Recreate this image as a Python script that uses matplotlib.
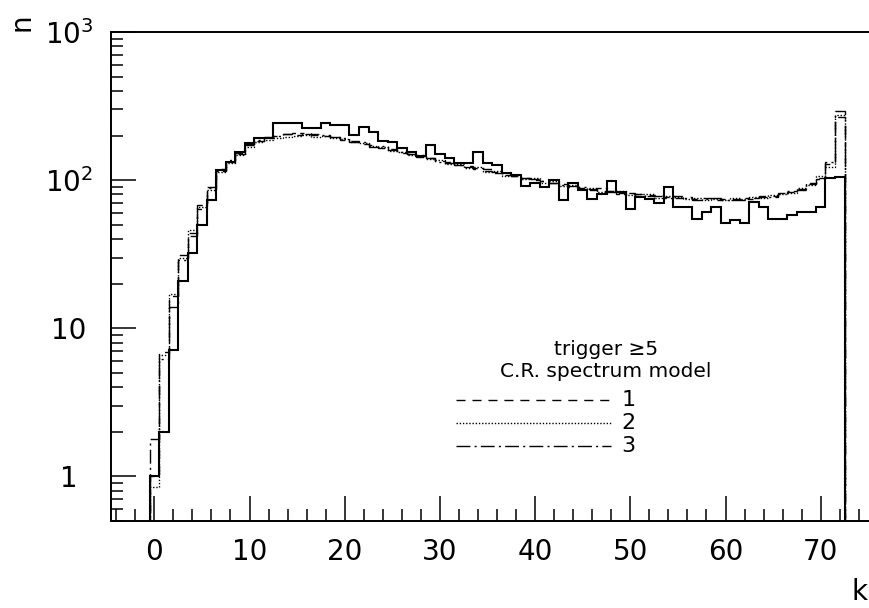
import numpy as np
import matplotlib
matplotlib.use('Agg')
import matplotlib.pyplot as plt
from matplotlib.ticker import FixedLocator, MultipleLocator, LogLocator, NullFormatter

# bin contents, k = 0 .. 72
k = np.arange(0, 73)

n_data = [1, 2, 7.1, 21, 32, 50, 73, 117, 133, 155,
          178, 194, 194, 242, 242, 242, 226, 226, 242, 235,
          235, 201, 229, 210, 184, 182, 164, 155, 145, 172,
          151, 142, 130, 130, 154, 130, 126, 111, 108, 91,
          95, 90, 100, 73, 95, 86, 75, 81, 99, 83,
          64, 77, 75, 70, 90, 66, 66, 55, 61, 66,
          51, 54, 51, 71, 66, 55, 55, 58, 61, 61,
          66, 103, 105]

n_model1 = [1.0, 6.9, 16.5, 31, 44, 68, 90, 118, 133, 150,
            172, 184, 192, 198, 204, 201, 207, 203, 198, 197,
            188, 185, 176, 174, 165, 161, 153, 151, 144, 141,
            134, 132, 126, 125, 119, 118, 112, 111, 106, 104,
            100, 99, 95, 94, 90, 89, 86, 85, 84, 82,
            81, 80, 78, 79, 77, 76, 77, 75, 76, 74,
            75, 74, 76, 75, 77, 78, 80, 83, 87, 94,
            104, 128, 268]

n_model2 = [0.85, 6.6, 17, 30, 46, 66, 86, 114, 130, 148,
            168, 180, 188, 192, 196, 199, 202, 197, 200, 193,
            191, 180, 178, 170, 167, 158, 156, 147, 146, 138,
            137, 128, 129, 121, 122, 114, 115, 107, 109, 101,
            103, 96, 98, 91, 92, 87, 88, 83, 85, 84,
            79, 81, 80, 76, 78, 77, 75, 76, 74, 75,
            73, 76, 75, 77, 76, 79, 81, 82, 88, 92,
            106, 122, 275]

n_model3 = [1.8, 6.2, 14, 29, 42, 64, 88, 116, 136, 152,
            175, 186, 195, 200, 205, 208, 204, 206, 201, 195,
            193, 182, 180, 168, 170, 160, 155, 149, 148, 140,
            132, 130, 127, 123, 121, 116, 113, 109, 107, 103,
            101, 98, 96, 93, 91, 90, 87, 88, 83, 81,
            82, 78, 79, 78, 76, 78, 76, 74, 75, 76,
            74, 75, 73, 76, 78, 77, 82, 85, 86, 95,
            102, 132, 295]

y_ticks = [1, 10, 100, 1000]
y_ticklabels = ['1', '10', r'$\mathregular{10^{2}}$', r'$\mathregular{10^{3}}$']
x_ticks = [0, 10, 20, 30, 40, 50, 60, 70]

legend_title = ['trigger \u22655', 'C.R. spectrum model']
legend_labels = ['1', '2', '3']

plt.rcParams['font.family'] = ['DejaVu Sans']
plt.rcParams['mathtext.fontset'] = 'dejavusans'

fig = plt.figure(figsize=(8.69, 6.08), dpi=100)
ax = fig.add_axes([111 / 869, 87 / 608, 760 / 869, 489 / 608])

edges = np.arange(-0.5, 73.5, 1.0)
styles = [
    ('-', 1.5, n_data),
    ((0, (6.5, 5.0)), 1.0, n_model1),
    ((0, (1.0, 1.3)), 1.0, n_model2),
    ((0, (10.0, 3.0, 1.5, 3.0)), 1.0, n_model3),
]
for ls, lw, vals in styles:
    ax.stairs(vals, edges, baseline=1e-3, color='black', linestyle=ls, linewidth=lw)

ax.set_yscale('log')
ax.set_xlim(-4.55, (869 + 2 - 154.3) / 9.52)
ax.set_ylim(0.5, 1000)

ax.xaxis.set_major_locator(FixedLocator(x_ticks))
ax.xaxis.set_minor_locator(MultipleLocator(2))
ax.yaxis.set_major_locator(FixedLocator(y_ticks))
ax.yaxis.set_minor_locator(LogLocator(base=10, subs=np.arange(2, 10)))
ax.yaxis.set_minor_formatter(NullFormatter())
ax.set_yticklabels(y_ticklabels)

ax.tick_params(which='both', direction='in', top=False, right=False, width=1.1, colors='black')
ax.tick_params(which='major', length=18, labelsize=20)
ax.tick_params(which='minor', length=8.6)
ax.tick_params(axis='x', which='major', pad=12)
ax.tick_params(axis='y', which='major', pad=14)
for lab in ax.get_yticklabels():
    lab.set_horizontalalignment('center')
    lab.set_x(-0.03)

for sp in ax.spines.values():
    sp.set_linewidth(1.4)

# legend block
t = ax.transAxes
ax.text(0.651, 0.35, legend_title[0], transform=t, ha='center', va='center', fontsize=14.5)
ax.text(0.651, 0.305, legend_title[1], transform=t, ha='center', va='center', fontsize=14.5)
for (ls, lw, _), lab, yy in zip(styles[1:], legend_labels, [0.2474, 0.2004, 0.1534]):
    ax.plot([0.4538, 0.6583], [yy, yy], transform=t, color='black', linestyle=ls, linewidth=1.0)
    ax.text(0.6807, yy, lab, transform=t, ha='center', va='center', fontsize=16)

fig.text(22 / 869, 1 - 22 / 608, 'n', rotation=90, ha='center', va='center', fontsize=20)
fig.text(860 / 869, 1 - 592 / 608, 'k', ha='center', va='center', fontsize=20)

fig.savefig('out.png', dpi=100)
